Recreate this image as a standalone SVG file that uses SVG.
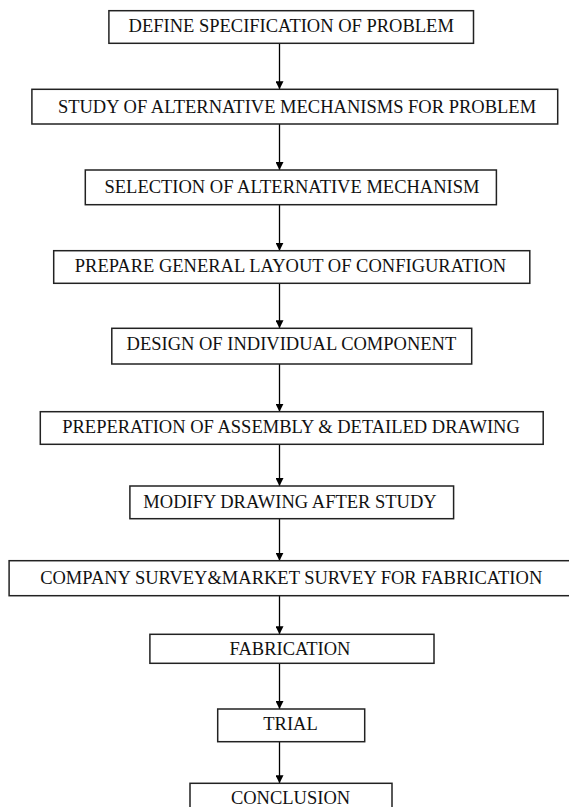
<svg xmlns="http://www.w3.org/2000/svg" width="569" height="807" viewBox="0 0 569 807">
<style>
.box{fill:#fff;stroke:#222;stroke-width:1.5}
.lbl{font-family:"Liberation Serif","Times New Roman",serif;font-size:18.5px;fill:#111;text-anchor:middle}
.conn{stroke:#000;stroke-width:1.3;fill:none;marker-end:url(#ah)}
</style>
<defs>
<marker id="ah" viewBox="0 0 10 10" refX="10" refY="5" markerWidth="8" markerHeight="8" markerUnits="userSpaceOnUse" orient="auto">
<path d="M0,0 L10,5 L0,10 z" fill="#000"/>
</marker>
</defs>
<rect width="569" height="807" fill="#fff"/>
<g id="connectors">
<line class="conn" x1="279.5" y1="43.3" x2="279.5" y2="89.3"/>
<line class="conn" x1="279.5" y1="124" x2="279.5" y2="170"/>
<line class="conn" x1="279.5" y1="204.7" x2="279.5" y2="250.7"/>
<line class="conn" x1="279.5" y1="283.3" x2="279.5" y2="328.3"/>
<line class="conn" x1="279.5" y1="364" x2="279.5" y2="411.7"/>
<line class="conn" x1="279.5" y1="444.3" x2="279.5" y2="486"/>
<line class="conn" x1="279.5" y1="518.7" x2="279.5" y2="560.7"/>
<line class="conn" x1="279.5" y1="595.7" x2="279.5" y2="634.3"/>
<line class="conn" x1="279.5" y1="663.3" x2="279.5" y2="709"/>
<line class="conn" x1="279.5" y1="741.7" x2="279.5" y2="783.3"/>
</g>
<g id="n1"><rect class="box" x="108.9" y="10.7" width="364.6" height="32.6"/><text class="lbl" x="291.2" y="32.3">DEFINE SPECIFICATION OF PROBLEM</text></g>
<g id="n2"><rect class="box" x="31.9" y="89.3" width="525.8" height="34.7"/><text class="lbl" x="297" y="112.7">STUDY OF ALTERNATIVE MECHANISMS FOR PROBLEM</text></g>
<g id="n3"><rect class="box" x="85.3" y="170" width="411.1" height="34.7"/><text class="lbl" x="292" y="192.7">SELECTION OF ALTERNATIVE MECHANISM</text></g>
<g id="n4"><rect class="box" x="53.7" y="250.7" width="476.1" height="32.6"/><text class="lbl" x="290.5" y="272.3">PREPARE GENERAL LAYOUT OF CONFIGURATION</text></g>
<g id="n5"><rect class="box" x="111.8" y="328.3" width="359.9" height="35.7"/><text class="lbl" x="291.4" y="350">DESIGN OF INDIVIDUAL COMPONENT</text></g>
<g id="n6"><rect class="box" x="40.3" y="411.7" width="502.9" height="32.6"/><text class="lbl" x="291" y="433.3">PREPERATION OF ASSEMBLY &amp; DETAILED DRAWING</text></g>
<g id="n7"><rect class="box" x="129.9" y="486" width="323.7" height="32.7"/><text class="lbl" x="290" y="507.7">MODIFY DRAWING AFTER STUDY</text></g>
<g id="n8"><rect class="box" x="9.1" y="560.7" width="570" height="35"/><text class="lbl" x="291.2" y="583.5">COMPANY SURVEY&amp;MARKET SURVEY FOR FABRICATION</text></g>
<g id="n9"><rect class="box" x="149.9" y="634.3" width="284.1" height="29"/><text class="lbl" x="290" y="655">FABRICATION</text></g>
<g id="n10"><rect class="box" x="217.7" y="709" width="147" height="32.7"/><text class="lbl" x="290.5" y="730">TRIAL</text></g>
<g id="n11"><rect class="box" x="190" y="783.3" width="202" height="32"/><text class="lbl" x="290.5" y="804">CONCLUSION</text></g>
</svg>
